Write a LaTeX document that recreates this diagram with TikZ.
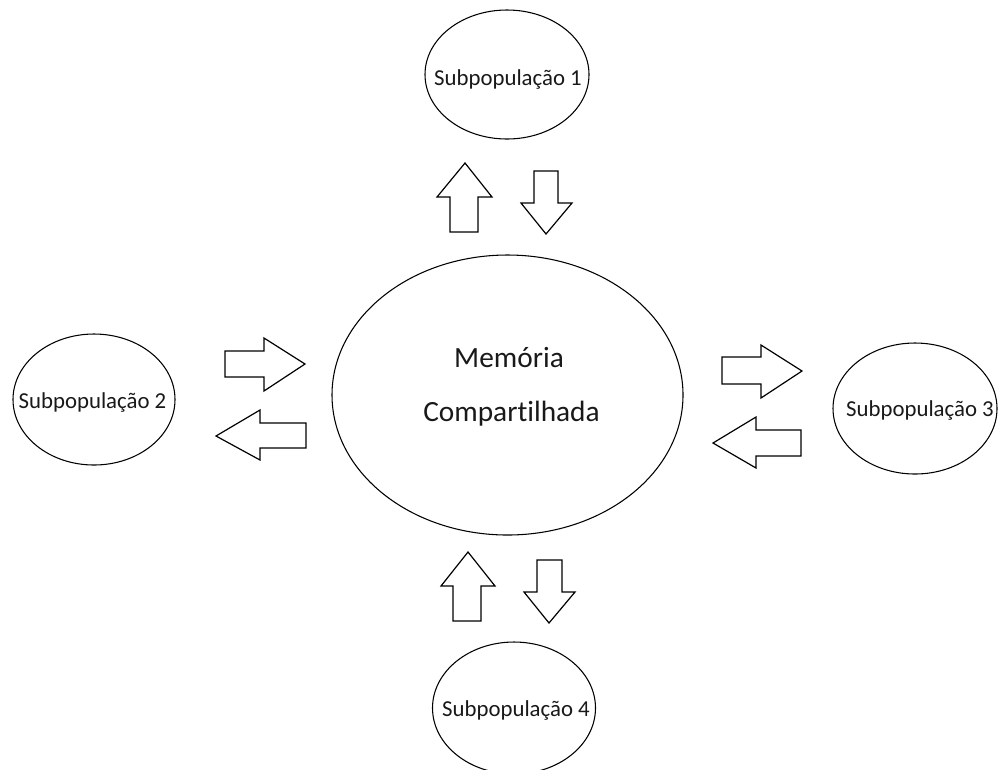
\documentclass[tikz,border=0pt]{standalone}
\usepackage{fontspec}
\setmainfont{Carlito}[Ligatures={NoCommon}]
\usetikzlibrary{shapes.geometric}
\tikzset{
  sub/.style={ellipse, draw, line width=0.8pt, inner sep=0pt},
  lbl/.style={anchor=base, inner sep=0pt, font=\fontsize{17.1pt}{20pt}\selectfont, text=black!90},
  big/.style={anchor=base, inner sep=0pt, font=\fontsize{22pt}{26pt}\selectfont, text=black!90},
  blockarrow/.style={draw, line width=0.9pt, line join=miter, fill=white}
}
\begin{document}
\begin{tikzpicture}[x=0.75pt, y=-0.75pt]
\useasboundingbox (0,0) rectangle (998,769);
\clip (0,0) rectangle (998,769);
% ellipses
\node[sub, minimum width=263.25pt, minimum height=210pt] (mem) at (507.5,395) {};
\node[sub, minimum width=123pt, minimum height=96.75pt] (s1) at (507,74.5) {};
\node[sub, minimum width=121.5pt, minimum height=98.25pt] (s2) at (94,399.5) {};
\node[sub, minimum width=123pt, minimum height=98.25pt] (s3) at (915,408.5) {};
\node[sub, minimum width=122.25pt, minimum height=99pt] (s4) at (514,708) {};
% texts
\node[big] (t1) at (509,367) {Memória};
\node[big] (t2) at (511.5,421) {Compart\kern0pt ilhada};
\node[lbl] (l1) at (508,85) {Subpopulação 1};
\node[lbl] (l2) at (92.5,408) {Subpopulação 2};
\node[lbl] (l3) at (920,416) {Subpopulação 3};
\node[lbl] (l4) at (516,716) {Subpopulação 4};
% block arrows, top
\draw[blockarrow] (450,232) -- (450,197) -- (437,197) -- (465,163) -- (492,197) -- (478,197) -- (478,232) -- cycle;
\draw[blockarrow] (534,171) -- (558,171) -- (558,203) -- (572,203) -- (546,234) -- (521,203) -- (534,203) -- cycle;
% bottom
\draw[blockarrow] (453,621) -- (453,586) -- (441,586) -- (468,552) -- (495,586) -- (481,586) -- (481,621) -- cycle;
\draw[blockarrow] (537,560) -- (562,560) -- (562,592) -- (575,592) -- (549,623) -- (524,592) -- (537,592) -- cycle;
% left
\draw[blockarrow] (225,351) -- (264,351) -- (264,338) -- (305,364) -- (264,391) -- (264,377) -- (225,377) -- cycle;
\draw[blockarrow] (306,423) -- (260,423) -- (260,410) -- (216,436) -- (260,460) -- (260,448) -- (306,448) -- cycle;
% right
\draw[blockarrow] (722,357) -- (761,357) -- (761,345) -- (802,371) -- (761,398) -- (761,384) -- (722,384) -- cycle;
\draw[blockarrow] (801,430) -- (756,430) -- (756,417) -- (713,443) -- (756,468) -- (756,456) -- (801,456) -- cycle;
\end{tikzpicture}
\end{document}
